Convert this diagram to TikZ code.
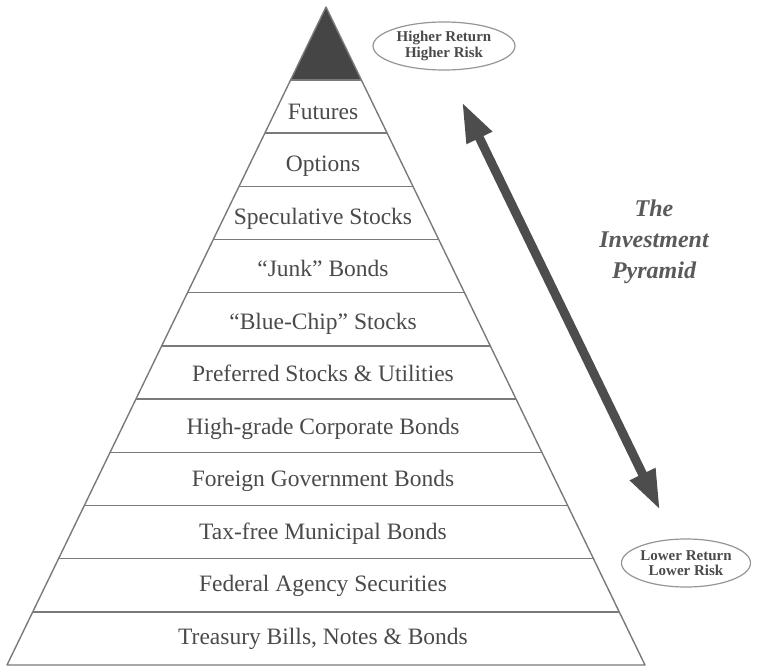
\documentclass[tikz,border=0pt]{standalone}
\usepackage{fontspec}
\setmainfont{Liberation Serif}
\usetikzlibrary{arrows.meta,shapes.geometric,calc}
\definecolor{edgecol}{HTML}{7A7A7A}
\definecolor{txtcol}{HTML}{4A4A4A}
\definecolor{darkfill}{HTML}{454545}
\definecolor{arrowcol}{HTML}{4D4D4D}
\definecolor{titlecol}{HTML}{5A5A5A}
\tikzset{
  edge/.style={draw=edgecol, line width=1.4pt},
  lab/.style={anchor=base, text=txtcol, inner sep=0pt, font=\fontsize{23.5}{28}\selectfont},
  oval/.style={ellipse, draw=edgecol!80, line width=1.2pt, align=center, inner sep=0pt,
    text=txtcol, font=\fontsize{15}{15.5}\selectfont\bfseries},
  bigarrow/.style={draw=arrowcol, line width=9pt,
    {Triangle[length=40pt,width=26pt]}-{Triangle[length=40pt,width=26pt]}},
  title/.style={align=center, text=titlecol, font=\fontsize{24}{31}\selectfont\bfseries\itshape}
}
\begin{document}
\begin{tikzpicture}[x=1pt,y=-1pt]
\useasboundingbox (0,0) rectangle (764,667);
\coordinate (apex) at (326,7);
\coordinate (bl) at (7,665);
\coordinate (br) at (645,665);
% dark top triangle
\pgfmathsetmacro\ftop{73/658}
\fill[darkfill] (apex) -- ($(apex)!\ftop!(bl)$) -- ($(apex)!\ftop!(br)$) -- cycle;
% band lines
\foreach \i in {0,...,10}{
  \pgfmathsetmacro\f{(73+\i*53.18)/658}
  \draw[edge] ($(apex)!\f!(bl)$) -- ($(apex)!\f!(br)$);
}
% outline
\draw[edge, line join=round] (apex) -- (bl) -- (br) -- cycle;
% labels
\foreach \t [count=\i from 0] in {Futures, Options, Speculative Stocks, “Junk” Bonds,
  “Blue-Chip” Stocks, Preferred Stocks \& Utilities, High-grade Corporate Bonds,
  Foreign Government Bonds, Tax-free Municipal Bonds, Federal Agency Securities,
  {Treasury Bills, Notes \& Bonds}}{
  \node[lab] (band\i) at (323, {119+\i*52.5}) {\t};
}
% ellipses
\node[oval, minimum width=142pt, minimum height=48pt] (high) at (444,46) {Higher Return\\Higher Risk};
\node[oval, minimum width=128pt, minimum height=48pt] (low) at (686,563) {Lower Return\\Lower Risk};
% arrow
\coordinate (tipA) at (462,102);
\coordinate (tipB) at (660,510);
\draw[bigarrow] (tipA) -- (tipB);
% title
\node[title] (ttl) at (654,242) {The\\Investment\\Pyramid};
\end{tikzpicture}
\end{document}
